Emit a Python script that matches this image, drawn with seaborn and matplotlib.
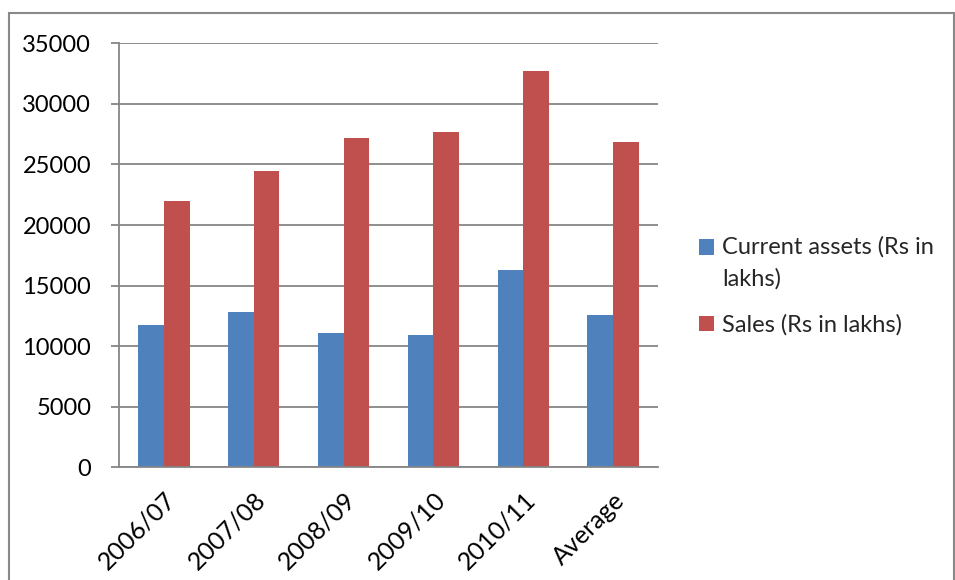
import matplotlib
matplotlib.use("Agg")
import matplotlib.pyplot as plt
from matplotlib.patches import Rectangle
from matplotlib.legend_handler import HandlerPatch
from matplotlib.ticker import FixedLocator, MultipleLocator
import seaborn as sns
import pandas as pd

years = ["2006/07", "2007/08", "2008/09", "2009/10", "2010/11", "Average"]
current_assets = [11750, 12800, 11060, 10950, 16260, 12560]
sales = [21960, 24490, 27210, 27680, 32740, 26820]
series_names = ["Current assets (Rs in\nlakhs)", "Sales (Rs in lakhs)"]
colors = ["#4F81BD", "#C0504D"]

df = pd.DataFrame({
    "Year": years * 2,
    "Value": current_assets + sales,
    "Series": [series_names[0]] * len(years) + [series_names[1]] * len(years),
})

sns.set_theme(style="white")
plt.rcParams["font.family"] = ["Lato", "DejaVu Sans"]
FS = 17

W, H = 955, 580
fig = plt.figure(figsize=(W / 100, H / 100), dpi=100)
ax = fig.add_axes([119 / W, 1 - 467.3 / H, (658 - 119) / W, (467.3 - 43.3) / H])

sns.barplot(data=df, x="Year", y="Value", hue="Series", order=years,
            hue_order=series_names, palette=colors, width=0.57,
            saturation=1, ax=ax, legend=True, edgecolor="none")

grid_c = "#868686"
ax.set_ylim(0, 35000)
ax.set_xlim(-0.5, len(years) - 0.5)
ax.yaxis.set_major_locator(MultipleLocator(5000))
ax.set_axisbelow(True)
ax.yaxis.grid(True, color=grid_c, linewidth=1.3)
ax.xaxis.grid(False)

for s in ["top", "right"]:
    ax.spines[s].set_visible(False)
for s in ["left", "bottom"]:
    ax.spines[s].set_color(grid_c)
    ax.spines[s].set_linewidth(1.3)

ax.set_xlabel("")
ax.set_ylabel("")

# category boundary ticks on the x axis
ax.xaxis.set_minor_locator(FixedLocator([i - 0.5 for i in range(len(years) + 1)]))
ax.tick_params(axis="x", which="major", length=0, pad=15)
ax.tick_params(axis="x", which="minor", length=6, width=1.3, color=grid_c, direction="out")
ax.tick_params(axis="y", which="major", length=6, width=1.3, color=grid_c,
               direction="out", pad=14, left=True)
ax.set_yticks(range(0, 35001, 5000))
ax.set_yticklabels([str(v) for v in range(0, 35001, 5000)], fontsize=FS, color="black")
ax.set_xticks(range(len(years)))
ax.set_xticklabels(years, rotation=45, ha="right", rotation_mode="anchor",
                   fontsize=18, color="black")


class TopAlignedSquare(HandlerPatch):
    """Square legend key aligned with the first line of a wrapped label."""

    def __init__(self, shift, **kw):
        super().__init__(**kw)
        self.shift = shift

    def create_artists(self, legend, orig_handle, xdescent, ydescent,
                       width, height, fontsize, trans):
        p = Rectangle((-xdescent, -ydescent + self.shift), width, height)
        self.update_prop(p, orig_handle, legend)
        p.set_transform(trans)
        return [p]


handles, labels = ax.get_legend_handles_labels()
ax.legend_.remove()
leg = ax.legend(handles, labels, loc="upper left",
                bbox_to_anchor=(699 / W, 1 - 236 / H),
                bbox_transform=fig.transFigure, frameon=False, fontsize=FS,
                handlelength=0.64, handleheight=0.64, handletextpad=0.35,
                labelspacing=1.05, borderaxespad=0, borderpad=0,
                handler_map={handles[0]: TopAlignedSquare(shift=0.68 * FS)})
for t in leg.get_texts():
    t.set_linespacing(1.6)

# outer chart frame
fig.patches.append(Rectangle((9 / W, -0.05), (954 - 9) / W, 1.05 - 13 / H,
                             transform=fig.transFigure, fill=False,
                             edgecolor="#898989", linewidth=1.5))

fig.savefig("out.png", dpi=100)
